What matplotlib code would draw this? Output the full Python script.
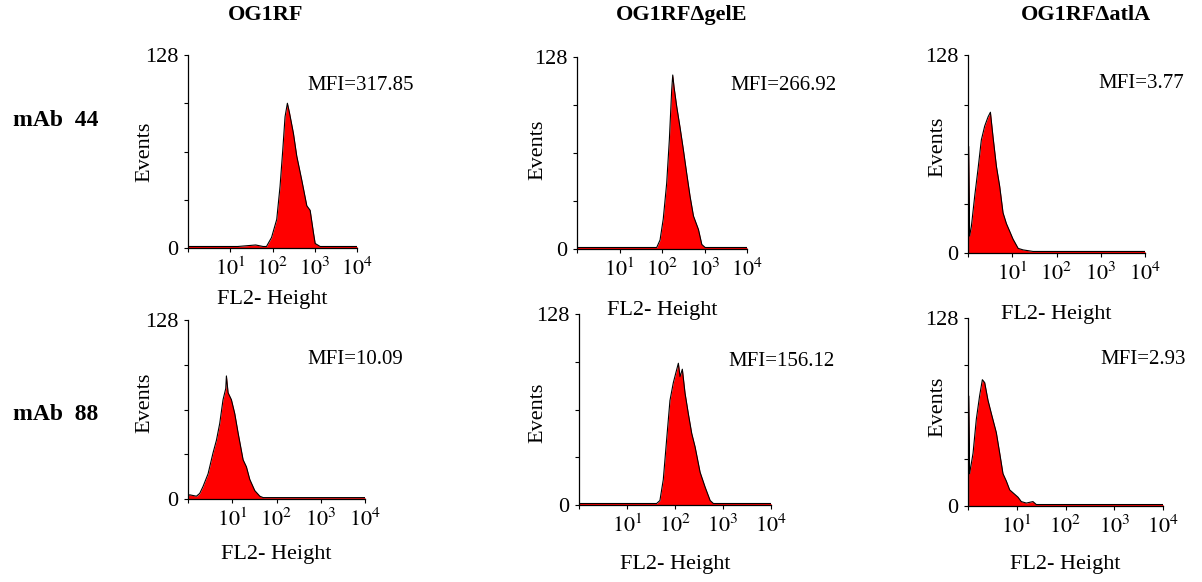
import matplotlib
matplotlib.use("Agg")
import matplotlib.pyplot as plt
from matplotlib.ticker import FixedLocator, LogLocator, NullFormatter

plt.rcParams["font.family"] = "Liberation Serif"
plt.rcParams["mathtext.fontset"] = "stix"

strains = ["OG1RF", "OG1RF\u0394gelE", "OG1RF\u0394atlA"]
antibodies = ["mAb  44", "mAb  88"]
mfi = [[317.85, 266.92, 3.77],
       [10.09, 156.12, 2.93]]

# histogram outlines: FL2 value and event count
fl2_og1rf_44 = [1, 5, 15, 40, 60, 72, 95, 126, 151, 175, 198, 225, 251, 313,
                375, 493, 649, 778, 933, 1023, 1346, 3000, 10000]
ev_og1rf_44 = [1, 1, 1, 2, 1, 1, 7, 19, 41, 65, 87, 96, 90, 76,
               61, 45, 28, 25, 10, 3, 1, 1, 1]

fl2_gele_44 = [1, 20, 50, 75, 90, 107, 129, 149, 169, 179, 192, 222, 266, 319,
               383, 458, 550, 721, 865, 1038, 10000]
ev_gele_44 = [1, 1, 1, 1, 6, 20, 44, 73, 106, 116, 108, 95, 81, 66,
              50, 35, 22, 13, 3, 1, 1]

# first channel pile-up shows as a thin spike at the left edge
fl2_atla_44 = [1.03, 1.03, 1.09, 1.19, 1.42, 1.68, 2.0, 2.38, 2.84, 3.21, 3.68, 4.39,
               5.21, 6.19, 7.38, 8.77, 10.4, 13.6, 17.6, 29.6, 100, 10000]
ev_atla_44 = [0, 69, 11, 17, 37, 54, 73, 82, 88, 91, 75, 56,
              43, 26, 19, 14, 9, 3, 2, 1, 1, 1]

fl2_og1rf_88 = [1.0, 1.09, 1.55, 1.84, 2.19, 2.84, 3.68, 4.39, 5.21, 6.19, 7.13,
                7.38, 8.05, 9.57, 11.4, 13.6, 17.6, 20.9, 24.9, 32.3, 42.0,
                49.9, 10000]
ev_og1rf_88 = [2, 3, 2, 4, 9, 18, 33, 42, 54, 71, 79,
               88, 76, 71, 61, 47, 28, 23, 14, 6, 2,
               1, 1]

fl2_gele_88 = [1.0, 20, 41.4, 48.5, 57.0, 67.0, 78.5, 92.3, 105, 117.5, 127.4,
               142.2, 161.8, 190, 223, 262, 333, 424, 540, 632, 10000]
ev_gele_88 = [1, 1, 1, 3, 17, 44, 70, 82, 89, 95, 86,
              91, 75, 61, 48, 39, 22, 12, 3, 1, 1]

fl2_atla_88 = [1.03, 1.03, 1.08, 1.27, 1.48, 1.73, 1.97, 2.20, 2.57, 3.01, 3.81, 4.47,
               5.22, 6.11, 7.16, 9.06, 10.6, 12.4, 15.7, 21.5, 25.2, 10000]
ev_atla_88 = [0, 75, 22, 36, 59, 75, 86, 84, 72, 63, 50, 36,
              22, 17, 11, 8, 6, 3, 2, 3, 1, 1]

series = [[(fl2_og1rf_44, ev_og1rf_44), (fl2_gele_44, ev_gele_44), (fl2_atla_44, ev_atla_44)],
          [(fl2_og1rf_88, ev_og1rf_88), (fl2_gele_88, ev_gele_88), (fl2_atla_88, ev_atla_88)]]

W, H = 1202, 582
# panel boxes in pixels: left, top, right, bottom(zero line)
boxes = [[(188, 55, 357, 248), (577, 57, 747, 249), (968, 55, 1145, 253)],
         [(188, 320, 365, 499), (579, 314, 771, 505), (968, 318, 1163, 506)]]
mfi_pos = [[(307, 85), (730, 85), (1098, 84)],
           [(307, 360), (728, 361), (1100, 360)]]
events_pos = [[(145, 152), (538, 150), (938, 147)],
              [(145, 403), (538, 413), (938, 407)]]
xlabel_y = [[300, 310, 314], [554, 565, 564]]
title_x = [266, 682, 1086]
row_y = [121, 415]


def fx(x):
    return x / W


def fy(y):
    return 1 - y / H


fig = plt.figure(figsize=(W / 100, H / 100), dpi=100)

for r in range(2):
    for c in range(3):
        l, t, rt, b = boxes[r][c]
        ax = fig.add_axes([fx(l), fy(b), (rt - l) / W, (b - t) / H])
        x, y = series[r][c]
        ax.fill_between(x, y, 0, color="#ff0000", linewidth=0)
        ax.plot(x, y, color="black", linewidth=0.8)

        ax.set_xscale("log")
        ax.set_xlim(1, 1e4)
        ax.set_ylim(0, 128)
        for s in ["top", "right"]:
            ax.spines[s].set_visible(False)
        for s in ["left", "bottom"]:
            ax.spines[s].set_linewidth(0.9)

        ax.xaxis.set_major_locator(FixedLocator([1, 10, 100, 1000, 10000]))
        ax.set_xticklabels(["", r"$10^{1}$", r"$10^{2}$", r"$10^{3}$", r"$10^{4}$"])
        ax.xaxis.set_minor_locator(LogLocator(base=10, subs=range(2, 10)))
        ax.xaxis.set_minor_formatter(NullFormatter())
        ax.tick_params(axis="x", which="major", length=3, width=0.8, labelsize=16, pad=4)
        ax.tick_params(axis="x", which="minor", length=1.5, width=0.6)

        ax.set_yticks([0, 32, 64, 96, 128])
        ax.set_yticklabels(["0", "", "", "", "128"])
        ax.tick_params(axis="y", length=3, width=0.8, labelsize=16, pad=4)

        fig.text(fx((l + rt) / 2), fy(xlabel_y[r][c]), "FL2- Height", fontsize=16,
                 ha="center", va="center")
        ex, ey = events_pos[r][c]
        fig.text(fx(ex), fy(ey), "Events", fontsize=16, rotation=90,
                 ha="center", va="center")

        mx, my = mfi_pos[r][c]
        fig.text(fx(mx), fy(my), f"MFI={mfi[r][c]:.2f}", fontsize=15,
                 ha="left", va="center")

for c, name in enumerate(strains):
    fig.text(fx(title_x[c]), fy(15), name, fontsize=16, fontweight="bold",
             ha="center", va="center")

for r, name in enumerate(antibodies):
    fig.text(fx(13), fy(row_y[r]), name, fontsize=17, fontweight="bold",
             ha="left", va="center")

fig.savefig("out.png", dpi=100)
